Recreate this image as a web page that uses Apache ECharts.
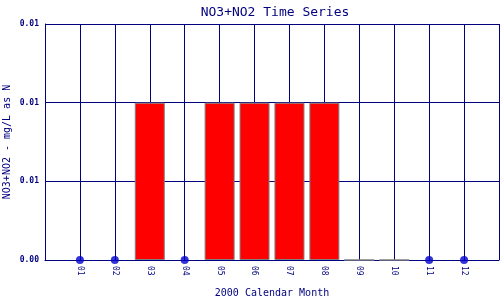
<!DOCTYPE html>
<html>
<head>
<meta charset="utf-8">
<script src="https://cdn.jsdelivr.net/npm/echarts@6/dist/echarts.min.js"></script>
<style>html,body{margin:0;padding:0;background:#fff}#c{width:500px;height:300px}</style>
</head>
<body>
<div id="c"></div>
<script>
var months = ['01','02','03','04','05','06','07','08','09','10','11','12'];
var barMonths = [3, 5, 6, 7, 8, 9, 10];
var barValues = [0.01, 0.01, 0.01, 0.01, 0.01, 0, 0];
var dotMonths = [1, 2, 4, 11, 12];
var dotValues = [0, 0, 0, 0, 0];

var font = 'DejaVu Sans Mono';
var navy = '#000080';
var chart = echarts.init(document.getElementById('c'));
chart.setOption({
  animation: false,
  backgroundColor: '#fff',
  title: {
    text: 'NO3+NO2 Time Series', left: 270, top: 1, textAlign: 'center',
    textStyle: { color: navy, fontFamily: font, fontSize: 13, fontWeight: 'normal' }
  },
  grid: { left: 45, right: 1, top: 24, bottom: 40, containLabel: false, outerBoundsMode: 'none' },
  xAxis: {
    type: 'value', min: 0, max: 13, interval: 1,
    name: '2000 Calendar Month', nameLocation: 'middle', nameGap: 28, nameMoveOverlap: false,
    nameTextStyle: { color: navy, fontFamily: font, fontSize: 10 },
    axisLine: { lineStyle: { color: navy, width: 1 } },
    axisTick: { show: false },
    splitLine: { show: true, lineStyle: { color: navy, width: 1 } },
    axisLabel: {
      rotate: -90, color: navy, fontFamily: font, fontSize: 8, margin: 6,
      formatter: function (v) { return (v >= 1 && v <= 12) ? months[v - 1] : ''; }
    }
  },
  yAxis: {
    type: 'value', min: 0, max: 0.015, interval: 0.005,
    name: 'NO3+NO2 - mg/L as N', nameLocation: 'middle', nameGap: 33, nameMoveOverlap: false,
    nameTextStyle: { color: navy, fontFamily: font, fontSize: 10 },
    axisLine: { show: true, lineStyle: { color: navy, width: 1 } },
    axisTick: { show: false },
    splitLine: { show: true, lineStyle: { color: navy, width: 1 } },
    axisLabel: {
      color: navy, fontFamily: font, fontSize: 8, fontWeight: 'bold', margin: 6,
      formatter: function (v) { return v.toFixed(2); }
    }
  },
  series: [
    {
      type: 'bar', barWidth: 30,
      data: barMonths.map(function (m, i) { return [m, barValues[i]]; }),
      itemStyle: { color: '#ff0000', borderColor: '#808080', borderWidth: 1 }
    },
    {
      type: 'scatter', symbol: 'circle', symbolSize: 8,
      data: dotMonths.map(function (m, i) { return [m, dotValues[i]]; }),
      itemStyle: { color: '#0000cc' },
      z: 5
    }
  ]
});
</script>
</body>
</html>
